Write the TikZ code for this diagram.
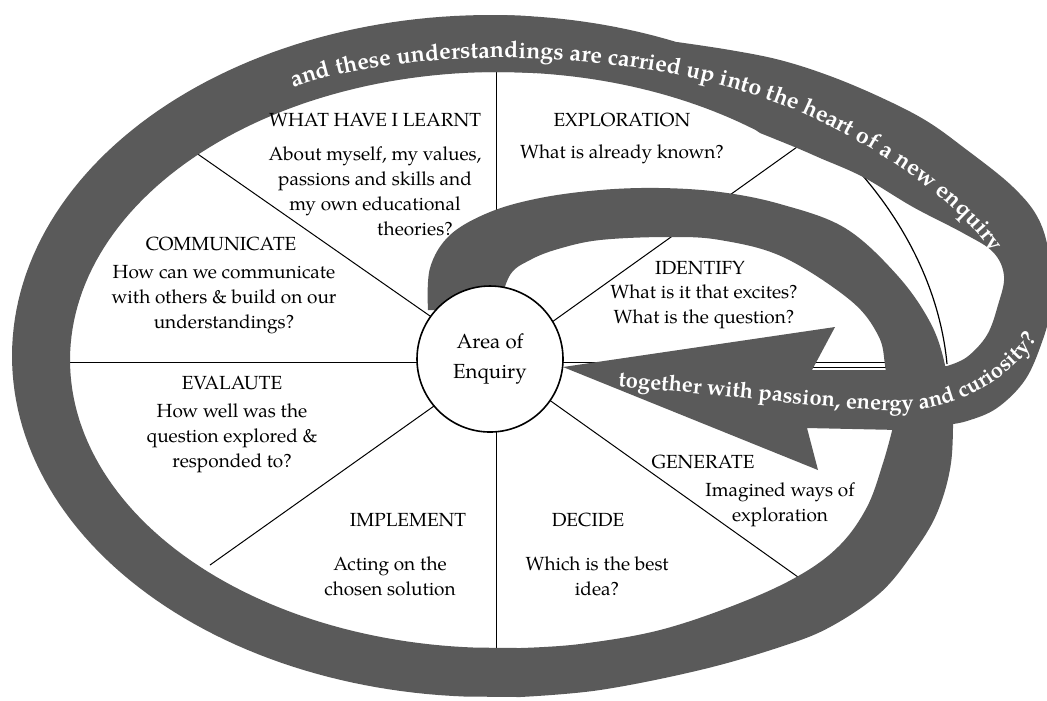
\documentclass[tikz,border=0pt]{standalone}
\usepackage{fontspec}
\setmainfont{texgyrepagella}[Extension=.otf, UprightFont=*-regular, BoldFont=*-bold, ItalicFont=*-italic, BoldItalicFont=*-bolditalic]
\usetikzlibrary{decorations.text}
\definecolor{bandgray}{RGB}{90,90,90}
\begin{document}
\begin{tikzpicture}[x=0.25pt,y=-0.25pt,
  band/.style={fill=bandgray},
  sector/.style={draw=black, line width=0.25pt},
  lbl/.style={font=\fontsize{4.75}{6.25}\selectfont, align=center, inner sep=0pt, text=black}]
\useasboundingbox (0,0) rectangle (1047,700);
\fill[white] (0,0) rectangle (1047,700);

% hub and sector end points
\coordinate (hub) at (496,362);
\coordinate (e0) at (926,362);
\coordinate (e35) at (797,147);
\coordinate (e90) at (496,72);
\coordinate (e145) at (192,150);
\coordinate (e180) at (70,362);
\coordinate (e215) at (210,565);
\coordinate (e270) at (496,648);
\coordinate (e325) at (798,577);
\foreach \e in {e0,e35,e90,e145,e180,e215,e270,e325}
  \draw[sector] (hub) -- (\e);

% thin outline of the wheel where the band leaves it
\coordinate (a1) at (863,176);
\coordinate (a2) at (947,364);
\draw[line width=0.3pt] (a1) .. controls (905,225) and (940,290) .. (a2);
\draw[line width=0.25pt] (812,367) -- (890,367);

% outer ring
\fill[band] plot[smooth, tension=0.6] coordinates {(953,405) (951,463) (937,513) (913,553) (880,593) (830,627) (780,647) (700,670) (600,690) (520,697)}
  -- plot[domain=93:275, samples=120, variable=\t] ({490+478*cos(\t)},{356+341*sin(\t)})
  -- plot[domain=275:93, samples=120, variable=\t] ({498+428*cos(\t)},{360+288*sin(\t)})
  -- plot[smooth, tension=0.6] coordinates {(520,648) (580,644) (660,630) (740,603) (800,575) (840,545) (867,507) (883,463) (893,427)} -- cycle;

% inner arc band (start of the spiral)
\fill[band] plot[smooth, tension=0.6] coordinates {(428,310) (430,268) (450,235) (490,212) (540,198) (600,190) (660,188) (720,192) (780,204) (845,228) (897,275) (930,322) (945,365) (953,420)}
  -- (891,430)
  -- plot[smooth, tension=0.6] coordinates {(888,400) (885,365) (878,335) (850,300) (783,257) (720,240) (667,237) (600,240) (558,249) (530,260) (510,275) (498,310)} -- cycle;

% top band, loop and arrow
\fill[band] plot[domain=268:293, samples=20, variable=\t] ({490+478*cos(\t)},{356+341*sin(\t)})
  -- plot[smooth, tension=0.6] coordinates {(677,42) (730,50) (780,60) (830,76) (880,97) (925,120) (963,147) (1013,187) (1040,222) (1051,268) (1050,310) (1042,342) (1025,380) (997,408) (967,421) (945,425)}
  -- (900,430) -- (807,428) -- (818,470) -- (563,367) -- (835,327) -- (812,370) -- (900,370)
  -- plot[smooth, tension=0.6] coordinates {(947,366) (967,357) (987,335) (998,305) (1004,276) (993,252) (963,233) (913,207) (863,177) (820,158) (797,148) (760,133)}
  -- plot[domain=307:268, samples=30, variable=\t] ({498+428*cos(\t)},{360+288*sin(\t)}) -- cycle;

% centre
\node[circle, draw=black, line width=0.4pt, fill=white, minimum size=36.5pt, inner sep=0pt,
  font=\fontsize{5.1}{7.5}\selectfont, align=center] (aoe) at (490,359) {Area of\\Enquiry};

% labels
\node[lbl] (hLearnt) at (375,120) {WHAT HAVE I LEARNT};
\node[lbl] (bLearnt) at (375,191) {About myself, my values,\\passions and skills and\\my own educational\\\hspace*{20pt}theories?};
\node[lbl] (hExpl) at (622,120) {EXPLORATION};
\node[lbl] (bExpl) at (622,154) {What is already known?};
\node[lbl] (hComm) at (221,244) {COMMUNICATE};
\node[lbl] (bComm) at (224,300) {How can we communicate\\with others \& build on our\\understandings?};
\node[lbl] (hIdent) at (700,268) {IDENTIFY};
\node[lbl] (bIdent) at (704,307) {What is it that excites?\\What is the question?};
\node[lbl] (hEval) at (232,383) {EVALAUTE};
\node[lbl] (bEval) at (232,438) {How well was the\\question explored \&\\responded to?};
\node[lbl] (hImpl) at (408,520) {IMPLEMENT};
\node[lbl] (bImpl) at (390,576) {Acting on the\\chosen solution};
\node[lbl] (hDec) at (588,520) {DECIDE};
\node[lbl] (bDec) at (597,576) {Which is the best\\idea?};
\node[lbl] (hGen) at (703,462) {GENERATE};
\node[lbl] (bGen) at (780,505) {Imagined ways of\\exploration};

% texts along the band
\path[decorate, decoration={text along path, text color=white, text align=center,
   text={|\bfseries\fontsize{5.8}{6}\selectfont|and these understandings are carried up into the heart of a new enquiry}}]
  (265,100) .. controls (372,45) and (620,40) .. (790,108) .. controls (902,156) and (970,212) .. (1010,278);
\path[decorate, decoration={text along path, text color=white, text align=center,
   text={|\bfseries\fontsize{5.5}{6}\selectfont|together with passion, energy and curiosity?}}]
  (598,385) .. controls (750,396) and (860,414) .. (915,410) .. controls (970,405) and (1022,370) .. (1048,322);
\end{tikzpicture}
\end{document}
